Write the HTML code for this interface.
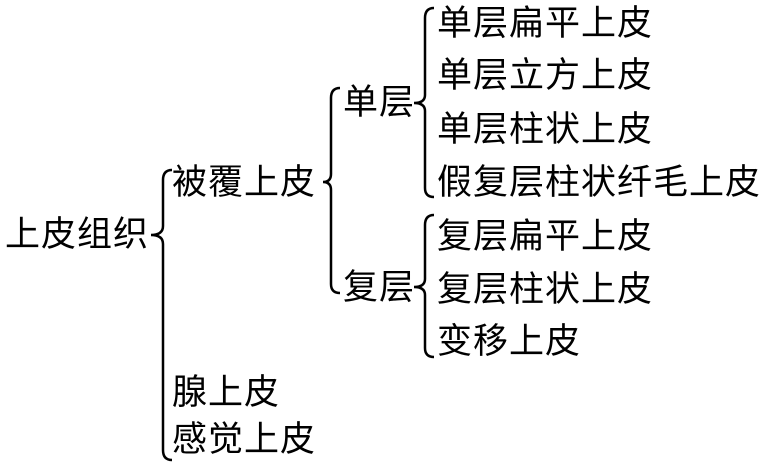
<!DOCTYPE html>
<html><head><meta charset="utf-8"><style>
body{margin:0;width:769px;height:466px;background:#fff;position:relative;overflow:hidden}
.t{position:absolute;font-family:"Liberation Sans","Noto Sans CJK SC",sans-serif;font-size:35px;line-height:36px;height:36px;color:#000;white-space:nowrap;letter-spacing:1px}
svg{position:absolute;left:0;top:0}
</style></head><body>
<svg width="769" height="466" fill="none" stroke="#000" stroke-width="2.5">
<path d="M172,170 Q163,170 163,180 L163,226 Q163,235 151,235 Q163,235 163,244 L163,450 Q163,460 172,460"/>
<path d="M340,88 Q331,88 331,98 L331,174 Q331,182 323,182 Q331,182 331,190 L331,284 Q331,293 340,293"/>
<path d="M434,8 Q425,8 425,18 L425,95 Q425,103 414,103 Q425,103 425,111 L425,188 Q425,197 434,197"/>
<path d="M434,215 Q425,215 425,225 L425,279 Q425,287 414,287 Q425,287 425,295 L425,348 Q425,357 434,357"/>
</svg>
<div class="t" style="left:5px;top:217px">上皮组织</div>
<div class="t" style="left:172px;top:165px">被覆上皮</div>
<div class="t" style="left:343px;top:85px">单层</div>
<div class="t" style="left:343px;top:270px">复层</div>
<div class="t" style="left:437px;top:6px">单层扁平上皮</div>
<div class="t" style="left:437px;top:58px">单层立方上皮</div>
<div class="t" style="left:437px;top:112px">单层柱状上皮</div>
<div class="t" style="left:437px;top:165px">假复层柱状纤毛上皮</div>
<div class="t" style="left:437px;top:219px">复层扁平上皮</div>
<div class="t" style="left:437px;top:272px">复层柱状上皮</div>
<div class="t" style="left:437px;top:324px">变移上皮</div>
<div class="t" style="left:172px;top:375px">腺上皮</div>
<div class="t" style="left:172px;top:422px">感觉上皮</div>
</body></html>
